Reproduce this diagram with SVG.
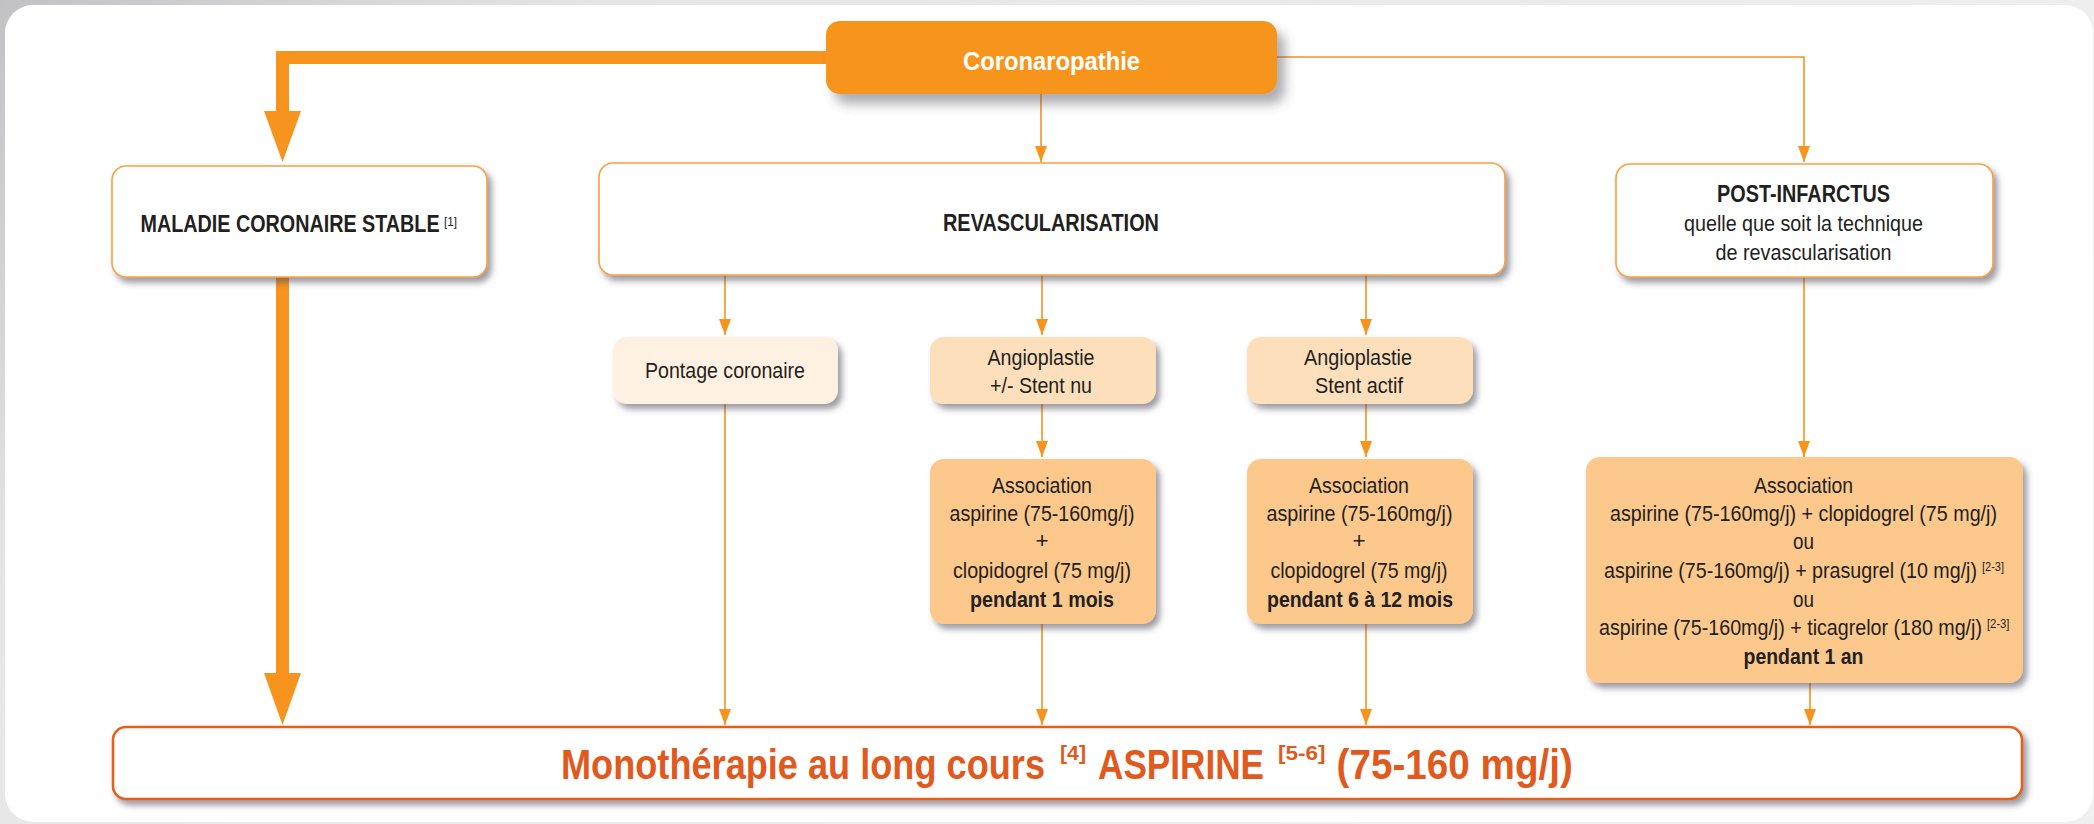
<svg xmlns="http://www.w3.org/2000/svg" width="2094" height="824" viewBox="0 0 2094 824">
<defs>
<linearGradient id="bg" x1="0" y1="0" x2="1" y2="0.4">
<stop offset="0" stop-color="#c2c2c4"/>
<stop offset="0.25" stop-color="#e6e6e7"/>
<stop offset="1" stop-color="#f0f0f0"/>
</linearGradient>
<filter id="sh" x="-10%" y="-20%" width="130%" height="160%">
<feDropShadow dx="4" dy="5" stdDeviation="3" flood-color="#4a4a55" flood-opacity="0.55"/>
</filter>
<filter id="sh2" x="-10%" y="-20%" width="130%" height="180%">
<feDropShadow dx="8" dy="10" stdDeviation="6" flood-color="#4a4a55" flood-opacity="0.45"/>
</filter>
<marker id="ah" viewBox="0 0 16 12" refX="16" refY="6" markerWidth="16" markerHeight="12" markerUnits="userSpaceOnUse" orient="auto">
<path d="M0,0 L16,6 L0,12 Z" fill="#f7941e"/>
</marker>
</defs>
<style>
.t{font-family:"Liberation Sans Narrow","Liberation Sans",Arial,sans-serif;font-size:22.5px;fill:#231f20;text-anchor:middle}
.b{font-weight:bold}
.s{font-size:13px;font-weight:normal}
.box{fill:#ffffff;stroke:#f7a144;stroke-width:1.6}
.c{fill:none;stroke:#f7941e;stroke-width:1.6}
.m{font-family:"Liberation Sans Narrow","Liberation Sans",Arial,sans-serif;font-weight:bold;fill:#e05a1e;font-size:42px}
.ms{font-size:20px}
</style>
<rect x="0" y="0" width="2094" height="824" fill="url(#bg)"/>
<rect x="5" y="5" width="2088" height="817" rx="28" fill="#ffffff"/>

<g id="connectors">
<path d="M826,57.5 H282.5 V112" fill="none" stroke="#f7941e" stroke-width="13"/>
<polygon points="264,111 301,111 282.5,162" fill="#f7941e"/>
<rect x="276" y="277" width="13" height="397" fill="#f7941e"/>
<polygon points="264,673 301,673 282.5,725" fill="#f7941e"/>
<path class="c" d="M1041,94 V162" marker-end="url(#ah)"/>
<path class="c" d="M1277,57 H1804 V162" marker-end="url(#ah)"/>
<path class="c" d="M725,275 V335" marker-end="url(#ah)"/>
<path class="c" d="M1042,275 V335" marker-end="url(#ah)"/>
<path class="c" d="M1366,275 V335" marker-end="url(#ah)"/>
<path class="c" d="M1042,404 V457" marker-end="url(#ah)"/>
<path class="c" d="M1366,404 V457" marker-end="url(#ah)"/>
<path class="c" d="M1804,277 V457" marker-end="url(#ah)"/>
<path class="c" d="M725,404 V725" marker-end="url(#ah)"/>
<path class="c" d="M1042,624 V725" marker-end="url(#ah)"/>
<path class="c" d="M1366,624 V725" marker-end="url(#ah)"/>
<path class="c" d="M1810,683 V725" marker-end="url(#ah)"/>
</g>

<g id="coronaropathie">
<rect x="826" y="21" width="451" height="73" rx="14" fill="#f7941e" filter="url(#sh2)"/>
<text class="t b" x="1051.5" y="70" style="font-size:26px;fill:#ffffff" textLength="177" lengthAdjust="spacingAndGlyphs">Coronaropathie</text>
</g>

<g id="maladie">
<rect class="box" x="112" y="166" width="375" height="111" rx="14" filter="url(#sh)"/>
<text class="t b" y="232" style="font-size:23px;text-anchor:start"><tspan x="140.6" textLength="299" lengthAdjust="spacingAndGlyphs">MALADIE CORONAIRE STABLE</tspan><tspan class="s" x="444" y="225.5" textLength="13" lengthAdjust="spacingAndGlyphs">[1]</tspan></text>
</g>

<g id="revascularisation">
<rect class="box" x="599" y="163" width="906" height="112" rx="14" filter="url(#sh)"/>
<text class="t b" x="1051" y="231" style="font-size:23px" textLength="216" lengthAdjust="spacingAndGlyphs">REVASCULARISATION</text>
</g>

<g id="post-infarctus">
<rect class="box" x="1616" y="164" width="377" height="113" rx="14" filter="url(#sh)"/>
<text class="t b" x="1803.5" y="202" style="font-size:23px" textLength="173" lengthAdjust="spacingAndGlyphs">POST-INFARCTUS</text>
<text class="t" x="1803.5" y="231" textLength="239" lengthAdjust="spacingAndGlyphs">quelle que soit la technique</text>
<text class="t" x="1803.5" y="260" textLength="176" lengthAdjust="spacingAndGlyphs">de revascularisation</text>
</g>

<g id="pontage">
<rect x="613" y="337" width="225" height="67" rx="14" fill="#fef1e2" filter="url(#sh)"/>
<text class="t" x="725" y="378" textLength="160" lengthAdjust="spacingAndGlyphs">Pontage coronaire</text>
</g>

<g id="angio-nu">
<rect x="930" y="337" width="226" height="67" rx="14" fill="#fddfbc" filter="url(#sh)"/>
<text class="t" x="1041" y="365" textLength="107" lengthAdjust="spacingAndGlyphs">Angioplastie</text>
<text class="t" x="1041" y="393" textLength="102" lengthAdjust="spacingAndGlyphs">+/- Stent nu</text>
</g>

<g id="angio-actif">
<rect x="1247" y="337" width="226" height="67" rx="14" fill="#fddfbc" filter="url(#sh)"/>
<text class="t" x="1358" y="365" textLength="108" lengthAdjust="spacingAndGlyphs">Angioplastie</text>
<text class="t" x="1359" y="393" textLength="88" lengthAdjust="spacingAndGlyphs">Stent actif</text>
</g>

<g id="assoc-1">
<rect x="930" y="459" width="226" height="165" rx="14" fill="#fcc88c" filter="url(#sh)"/>
<text class="t" x="1042" y="493" textLength="100" lengthAdjust="spacingAndGlyphs">Association</text>
<text class="t" x="1042" y="521" textLength="185" lengthAdjust="spacingAndGlyphs">aspirine (75-160mg/j)</text>
<text class="t" x="1042" y="548">+</text>
<text class="t" x="1042" y="578" textLength="178" lengthAdjust="spacingAndGlyphs">clopidogrel (75 mg/j)</text>
<text class="t b" x="1042" y="607" textLength="144" lengthAdjust="spacingAndGlyphs">pendant 1 mois</text>
</g>

<g id="assoc-2">
<rect x="1247" y="459" width="226" height="165" rx="14" fill="#fcc88c" filter="url(#sh)"/>
<text class="t" x="1359" y="493" textLength="100" lengthAdjust="spacingAndGlyphs">Association</text>
<text class="t" x="1359.5" y="521" textLength="186" lengthAdjust="spacingAndGlyphs">aspirine (75-160mg/j)</text>
<text class="t" x="1359" y="548">+</text>
<text class="t" x="1359" y="578" textLength="177" lengthAdjust="spacingAndGlyphs">clopidogrel (75 mg/j)</text>
<text class="t b" x="1360" y="607" textLength="186" lengthAdjust="spacingAndGlyphs">pendant 6 à 12 mois</text>
</g>

<g id="assoc-post">
<rect x="1586" y="457" width="437" height="226" rx="14" fill="#fcc88c" filter="url(#sh)"/>
<text class="t" x="1803.5" y="493" textLength="99" lengthAdjust="spacingAndGlyphs">Association</text>
<text class="t" x="1803.5" y="521" textLength="387" lengthAdjust="spacingAndGlyphs">aspirine (75-160mg/j) + clopidogrel (75 mg/j)</text>
<text class="t" x="1803.5" y="549" textLength="21" lengthAdjust="spacingAndGlyphs">ou</text>
<text class="t" y="578" style="text-anchor:start"><tspan x="1604" textLength="373" lengthAdjust="spacingAndGlyphs">aspirine (75-160mg/j) + prasugrel (10 mg/j)</tspan><tspan class="s" x="1982" y="570.5" textLength="22" lengthAdjust="spacingAndGlyphs">[2-3]</tspan></text>
<text class="t" x="1803.5" y="607" textLength="21" lengthAdjust="spacingAndGlyphs">ou</text>
<text class="t" y="635" style="text-anchor:start"><tspan x="1599" textLength="383" lengthAdjust="spacingAndGlyphs">aspirine (75-160mg/j) + ticagrelor (180 mg/j)</tspan><tspan class="s" x="1987" y="628" textLength="22.5" lengthAdjust="spacingAndGlyphs">[2-3]</tspan></text>
<text class="t b" x="1803.5" y="664" textLength="120" lengthAdjust="spacingAndGlyphs">pendant 1 an</text>
</g>

<g id="monotherapie">
<rect x="113" y="727" width="1909" height="72" rx="13" fill="#ffffff" stroke="#e2621f" stroke-width="2.6" filter="url(#sh)"/>
<text class="m" y="779"><tspan x="561" textLength="484" lengthAdjust="spacingAndGlyphs">Monothérapie au long cours</tspan><tspan class="ms" x="1060" y="760" textLength="26" lengthAdjust="spacingAndGlyphs">[4]</tspan><tspan x="1098" y="779" textLength="166" lengthAdjust="spacingAndGlyphs">ASPIRINE</tspan><tspan class="ms" x="1278" y="760" textLength="47.5" lengthAdjust="spacingAndGlyphs">[5-6]</tspan><tspan x="1336.5" y="779" textLength="236.5" lengthAdjust="spacingAndGlyphs">(75-160 mg/j)</tspan></text>
</g>
</svg>
